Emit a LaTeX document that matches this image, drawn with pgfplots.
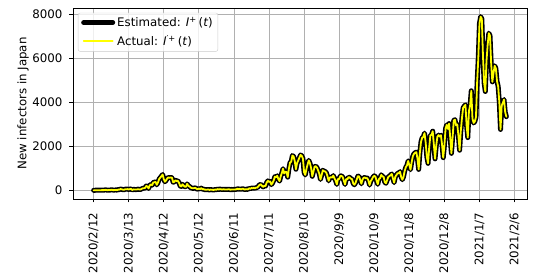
\documentclass[border=0pt]{standalone}
\usepackage{fontspec}
\setmainfont{DejaVu Sans}
\usepackage{pgfplots}
\usepackage{pgfplotstable}
\pgfplotsset{compat=1.18}
\definecolor{gridgray}{HTML}{B0B0B0}
\definecolor{mplyellow}{HTML}{FFFF00}
\definecolor{leggray}{HTML}{CCCCCC}

% daily new cases from 2020/2/12 (day 0) to 2021/1/30 (day 353)
\pgfplotstableread{
y
1
1
8
5
7
6
5
11
8
12
22
15
6
14
13
24
20
9
14
18
12
33
32
59
47
33
26
54
52
55
41
56
63
15
43
39
35
40
53
43
39
65
93
96
112
200
173
87
225
266
235
351
368
383
252
351
511
576
644
720
507
391
454
549
584
568
587
568
368
389
455
424
432
347
201
175
273
210
168
165
294
203
175
122
106
89
104
112
69
53
83
55
100
56
56
32
31
31
39
19
33
27
21
21
38
28
57
39
55
47
37
51
39
41
38
45
47
28
40
35
40
41
46
72
48
70
41
68
70
38
46
52
43
96
71
105
92
117
86
127
124
195
250
274
208
157
207
192
355
430
385
407
259
332
450
622
594
660
510
420
631
795
981
768
839
835
598
981
1264
1301
1580
1536
1330
958
1235
1354
1485
1605
1566
1440
822
700
968
1177
1359
1233
1011
637
852
1075
1095
1033
905
753
494
688
913
865
859
797
641
434
576
600
577
669
544
445
268
520
512
650
656
603
438
268
510
498
598
584
528
508
315
252
342
491
644
632
469
298
490
574
579
544
558
445
241
418
501
604
658
617
436
274
513
548
704
627
620
374
321
459
605
645
688
745
535
351
612
700
773
776
849
610
484
608
875
1045
1137
1336
1145
940
1279
1547
1661
1706
1734
1436
951
1694
2201
2387
2425
2596
2164
1517
1227
1941
2500
2518
2684
2068
1430
2025
2429
2507
2439
2503
2070
1485
2035
2803
2973
2788
3030
2384
1680
2383
3168
3209
2946
2993
2482
1821
2672
3267
3740
3825
3881
2948
2395
3601
3852
4520
3254
3059
3126
3322
4909
6004
7570
7882
7790
6094
4876
4487
5868
6604
7133
7014
5759
4924
5317
5652
5539
4953
4708
3978
2764
3851
3971
4122
3550
3343
}\cases

\begin{document}
\fontsize{11.8}{14}\selectfont
\begin{tikzpicture}
\path[use as bounding box] (-73pt,-79pt) rectangle (479pt,199pt);
\begin{axis}[
  scale only axis,
  width=454pt, height=191pt,
  xmin=-17.65, xmax=370.65,
  ymin=-393, ymax=8276,
  xtick={0,30,...,360},
  xticklabels={2020/2/12,2020/3/13,2020/4/12,2020/5/12,2020/6/11,2020/7/11,2020/8/10,2020/9/9,2020/10/9,2020/11/8,2020/12/8,2021/1/7,2021/2/6},
  ytick={0,2000,4000,6000,8000},
  scaled y ticks=false,
  /pgf/number format/set thousands separator={},
  /pgf/number format/assume math mode=true,
  xticklabel style={rotate=90, anchor=east, font=\fontsize{11.8}{14}\selectfont},
  yticklabel style={font=\fontsize{11.8}{14}\selectfont},
  xticklabel shift=6pt,
  yticklabel shift=3pt,
  tick align=outside,
  major tick length=3.5pt,
  tick style={black, line width=0.8pt},
  xtick pos=bottom, ytick pos=left,
  axis line style={line width=0.8pt},
  grid=major,
  major grid style={gridgray, line width=0.8pt},
  ylabel={New infectors in Japan},
  ylabel style={at={(axis description cs:-0.110,0.5)}, anchor=center, font=\fontsize{11.8}{14}\selectfont},
  legend style={at={(axis description cs:0.011,0.975)}, anchor=north west,
    draw=leggray, rounded corners=2pt, fill=white, fill opacity=0.8, text opacity=1,
    font=\fontsize{11.8}{14}\selectfont, row sep=3pt, inner xsep=3pt, inner ysep=2pt},
  legend cell align=left,
  legend image code/.code={\draw[#1] (0pt,0pt) -- (29pt,0pt);},
]
\addplot[black, line width=5pt, line join=round, line cap=round] table[x expr=\coordindex, y=y] {\cases};
\addlegendentry{Estimated: \textit{I}\textsuperscript{+}\,(\textit{t})}
\addplot[mplyellow, line width=1.8pt, line join=round, line cap=round] table[x expr=\coordindex, y=y] {\cases};
\addlegendentry{Actual: \textit{I}\textsuperscript{′+}\,(\textit{t})}
\end{axis}
\end{tikzpicture}
\end{document}
